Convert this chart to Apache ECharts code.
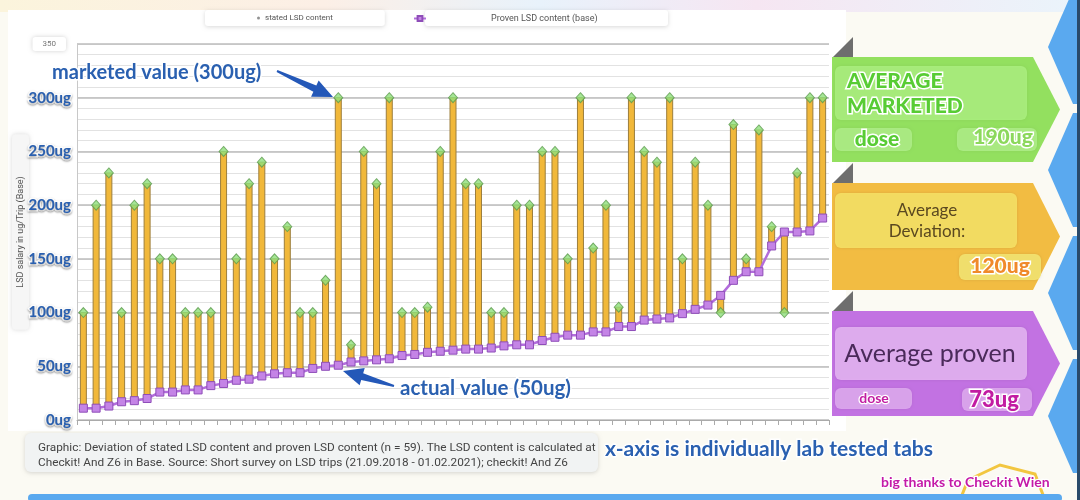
<!DOCTYPE html>
<html><head><meta charset="utf-8">
<script src="https://cdn.jsdelivr.net/npm/echarts@6/dist/echarts.min.js"></script>
<style>html,body{margin:0;padding:0;background:#fbfaf3}#c{width:1080px;height:500px}</style>
</head><body><div id="c"></div><script>
// ---- data ----
const categories = Array.from({length:59},(_,i)=>'Tab '+(i+1));
const statedContent = [100,200,230,100,200,220,150,150,100,100,
  100,250,150,220,240,150,180,100,100,130,
  300,70,250,220,300,100,100,105,250,300,
  220,220,100,100,200,200,250,250,150,300,
  160,200,105,300,250,240,300,150,240,200,
  100,275,150,270,180,100,230,300,300];
const provenContent = [11,11,13,17,18,20,26,26,28,28,
  32,34,37,38,41,43,44,44,48,50,
  51,54,55,56,57,60,61,63,64,65,
  66,66,67,69,70,70,74,77,79,79,
  82,82,87,87,93,94,95,99,103,107,
  116,130,138,138,162,175,175,176,188];
const yTickLabels = {0:'0ug',50:'50ug',100:'100ug',150:'150ug',200:'200ug',250:'250ug',300:'300ug',350:'350'};
const seriesNames = ['stated LSD content','Proven LSD content (base)'];
const panelTexts = {
  marketed: ['AVERAGE','MARKETED','dose','190ug'],
  deviation: ['Average','Deviation:','120ug'],
  proven: ['Average proven','dose','73ug']
};
const captionLines = ['Graphic: Deviation of stated LSD content and proven LSD content (n = 59). The LSD content is calculated at',
  'Checkit! And Z6 in Base. Source: Short survey on LSD trips (21.09.2018 - 01.02.2021); checkit! And Z6'];

const F = 'Lato, "Open Sans", sans-serif';
const blue = '#2a60b0';

function arrow(tail, tip, wTail, wShaft, wHead, headLen){
  const dx = tip[0]-tail[0], dy = tip[1]-tail[1];
  const L = Math.hypot(dx,dy), ux = dx/L, uy = dy/L, nx = -uy, ny = ux;
  const bx = tip[0]-ux*headLen, by = tip[1]-uy*headLen;
  return [[tail[0]+nx*wTail, tail[1]+ny*wTail],[bx+nx*wShaft, by+ny*wShaft],[bx+nx*wHead, by+ny*wHead],
    tip,[bx-nx*wHead, by-ny*wHead],[bx-nx*wShaft, by-ny*wShaft],[tail[0]-nx*wTail, tail[1]-ny*wTail]];
}
function outlinedText(x,y,text,size,fill,opt){
  opt = opt||{};
  return {type:'text', z: 120, x:x, y:y, style:{text:text, fill:fill, font:(opt.weight||'bold')+' '+size+'px '+F,
    stroke: opt.stroke===undefined?'#fff':opt.stroke, lineWidth: opt.lw||3, strokeFirst: true,
    textAlign: opt.align||'left', align: opt.align||'left', textVerticalAlign:'middle', verticalAlign:'middle',
    shadowColor: opt.shadow===false?'transparent':'rgba(0,0,0,0.35)', shadowBlur: 2, shadowOffsetY: 1}};
}
function panel(y0, y1, color){
  const ym = (y0+y1)/2;
  return [
    {type:'polygon', z:-5, shape:{points:[[833,y0],[853,y0-20],[853,y0]]}, style:{fill:'#6e6e6e'}},
    {type:'polygon', z:-5, shape:{points:[[832,y0],[1033,y0],[1060,ym],[1033,y1],[832,y1]]}, style:{fill:color}}
  ];
}
function box(x,y,w,h,fill){
  return {type:'rect', z:-4, shape:{x:x,y:y,width:w,height:h,r:6}, style:{fill:fill, shadowColor:'rgba(0,0,0,0.12)', shadowBlur:3}};
}
const hexes = [];
[47,170,293,416].forEach(c=>{
  hexes.push({type:'polygon', z:-6, shape:{points:[[1073,c-57],[1048,c],[1073,c+57],[1080,c+57],[1080,c-57]]}, style:{fill:'#5aa9ef'}});
});

const chart = echarts.init(document.getElementById('c'));
chart.setOption({
  backgroundColor: '#fbfaf3',
  animation: false,
  textStyle: {fontFamily: F},
  grid: {left: 77, right: 251, top: 44, bottom: 80, outerBoundsMode: 'none', containLabel: false},
  legend: [
    {data:[{name: seriesNames[0], itemStyle:{color:'#777', borderWidth:0}}], left: 205, top: 10,
      icon:'circle', itemWidth: 3, itemHeight: 3, itemGap: 0,
      padding:[4,52,4,52], backgroundColor:'#fff', borderRadius: 3,
      shadowColor:'rgba(0,0,0,0.15)', shadowBlur: 4, shadowOffsetY: 1,
      textStyle:{fontSize: 8, color:'#555', fontFamily:'Roboto'}},
    {data:[{name: seriesNames[1]}], left: 413, top: 10,
      itemWidth: 12, itemHeight: 6,
      padding:[4,0,4,0],
      textStyle:{fontSize: 9, color:'#555', fontFamily:'Roboto', padding:[0,0,0,60]}}
  ],
  xAxis: {type:'category', data: categories, boundaryGap: true,
    axisLine:{lineStyle:{color:'#aaa'}}, axisTick:{show:true, interval:0, length:5, lineStyle:{color:'#aaa'}},
    axisLabel:{show:false}, splitLine:{show:false}},
  yAxis: [
    {type:'value', min:0, max:350, interval:10,
      name:'LSD salary in ug/Trip (Base)', nameLocation:'middle', nameRotate:90, nameGap:48, nameMoveOverlap:false,
      nameTextStyle:{fontSize:9, color:'#555', fontFamily:'Roboto', backgroundColor:'#f6f6f6', borderRadius:4,
        padding:[4,42,4,42], shadowColor:'rgba(0,0,0,0.15)', shadowBlur:4},
      axisLine:{show:true, lineStyle:{color:'#c8c8c8'}}, axisTick:{show:false},
      splitLine:{show:true, lineStyle:{color:'#e2e2e2', width:1}},
      axisLabel:{margin:6, formatter: v => {
          if (!(v in yTickLabels)) return '';
          return v===350 ? '{box|'+yTickLabels[v]+'}{sp|}' : '{lab|'+yTickLabels[v]+'}';
        },
        rich:{
          lab:{fontSize:15, fontWeight:'bold', color:blue, fontFamily:F, textBorderColor:'#fff', textBorderWidth:3,
            textShadowColor:'rgba(0,0,0,0.35)', textShadowBlur:2, textShadowOffsetY:1},
          box:{fontSize:8, color:'#777', fontFamily:'Roboto', backgroundColor:'#fff', borderRadius:3, padding:[3,10],
            shadowColor:'rgba(0,0,0,0.18)', shadowBlur:4},
          sp:{width:5}
        }}},
    {type:'value', min:0, max:350, interval:50, show:true,
      axisLine:{show:false}, axisTick:{show:false}, axisLabel:{show:false},
      splitLine:{show:true, lineStyle:{color:'#bcbcbc', width:1.6}}}
  ],
  series: [
    {type:'custom', name:'range', z:2,
      data: categories.map((c,i)=>[i, provenContent[i], statedContent[i]]),
      encode:{x:0, y:[1,2]},
      renderItem:(params, api)=>{
        const a = api.coord([api.value(0), api.value(1)]);
        const b = api.coord([api.value(0), api.value(2)]);
        const w = 6;
        return {type:'rect', shape:{x:a[0]-w/2, y:Math.min(a[1],b[1]), width:w, height:Math.abs(a[1]-b[1])},
          style:{fill:'#f1b83a', stroke:'#9c7e3c', lineWidth:1}};
      }},
    {type:'line', name: seriesNames[1], data: provenContent, z:3,
      symbol:'rect', symbolSize:8,
      lineStyle:{color:'#b36ddc', width:2.5},
      itemStyle:{color:'#c484e6', borderColor:'#8e4db8', borderWidth:1}},
    {type:'scatter', name: seriesNames[0], data: statedContent, z:4,
      symbol:'diamond', symbolSize:[9,10],
      itemStyle:{color:'#8fe07a', borderColor:'#5c9a4e', borderWidth:1}}
  ],
  graphic: [
    {type:'rect', z:-20, shape:{x:0,y:0,width:1080,height:12},
      style:{fill:new echarts.graphic.LinearGradient(0,0,1,0,[
        {offset:0,color:'#fbf4dc'},{offset:0.3,color:'#fcefe6'},{offset:0.5,color:'#e8f2fb'},
        {offset:0.7,color:'#f6e6f2'},{offset:1,color:'#eaf4fb'}])}},
    {type:'rect', z:-15, shape:{x:8,y:10,width:838,height:421}, style:{fill:'#ffffff'}},
    {type:'rect', z:-14, shape:{x:425,y:10,width:243,height:16,r:3}, style:{fill:'#fff', shadowColor:'rgba(0,0,0,0.15)', shadowBlur:4, shadowOffsetY:1}},
    ...hexes,
    {type:'rect', z:-6, shape:{x:1077,y:0,width:3,height:500}, style:{fill:'#2a4a6a'}},
    ...panel(57,162,'#93e05f'),
    ...panel(183,290,'#f2bc42'),
    ...panel(311,416,'#c272e2'),
    box(835,66,192,54,'rgba(190,255,150,0.55)'),
    box(835,128,77,23,'rgba(200,255,170,0.5)'),
    box(957,128,80,23,'rgba(200,255,170,0.5)'),
    box(835,193,182,55,'rgba(250,235,110,0.75)'),
    box(959,254,82,26,'rgba(245,235,120,0.8)'),
    box(835,327,192,53,'rgba(240,200,250,0.7)'),
    box(835,388,77,21,'rgba(240,200,250,0.6)'),
    box(962,388,70,23,'rgba(240,200,250,0.6)'),
    outlinedText(847,81,panelTexts.marketed[0],21,'#58cc34',{lw:3, weight:900}),
    outlinedText(847,106,panelTexts.marketed[1],21,'#58cc34',{lw:3, weight:900}),
    outlinedText(877,139,panelTexts.marketed[2],21,'#58cc34',{lw:3, weight:900, align:'center'}),
    outlinedText(1003,137,panelTexts.marketed[3],21,'#8cd85c',{lw:3, weight:900, align:'center'}),
    outlinedText(927,211,panelTexts.deviation[0],17,'#5a4820',{weight:'normal', stroke:'transparent', shadow:false, align:'center'}),
    outlinedText(927,232,panelTexts.deviation[1],17,'#5a4820',{weight:'normal', stroke:'transparent', shadow:false, align:'center'}),
    outlinedText(1000,266,panelTexts.deviation[2],21,'#f08a2a',{lw:3, weight:900, align:'center'}),
    outlinedText(930,354,panelTexts.proven[0],25,'#4a2a5a',{weight:'normal', stroke:'transparent', shadow:false, align:'center'}),
    outlinedText(874,398,panelTexts.proven[1],14,'#c21ca2',{lw:2.5, align:'center'}),
    outlinedText(994,400,panelTexts.proven[2],22,'#c21ca2',{lw:3, weight:900, align:'center'}),
    outlinedText(52,73,'marketed value (300ug)',20,blue),
    {type:'polygon', z:110, shape:{points: arrow([277,71],[333,97],1,3.5,9,20)}, style:{fill:'#2458b8'}},
    outlinedText(400,388,'actual value (50ug)',20.5,blue),
    {type:'polygon', z:110, shape:{points: arrow([394,386],[343,371],1,3.5,9,20)}, style:{fill:'#2458b8'}},
    {type:'rect', z:-10, shape:{x:25,y:433,width:573,height:39,r:6}, style:{fill:'#f1f3f3', shadowColor:'rgba(0,0,0,0.15)', shadowBlur:4, shadowOffsetY:1}},
    {type:'text', z:50, x:38, y:448, style:{text:captionLines[0], fill:'#444', font:'11.8px Roboto', textVerticalAlign:'middle', verticalAlign:'middle'}},
    {type:'text', z:50, x:38, y:463, style:{text:captionLines[1], fill:'#444', font:'11.8px Roboto', textVerticalAlign:'middle', verticalAlign:'middle'}},
    outlinedText(605,449,'x-axis is individually lab tested tabs',21,blue),
    outlinedText(881,482,'big thanks to Checkit Wien',14,'#c41aa8',{lw:2.5}),
    {type:'polygon', z:-8, shape:{points:[[968,480],[1000,465],[1035,474],[1045,500],[960,500]]}, style:{fill:'none', stroke:'#f2c640', lineWidth:3}},
    {type:'rect', z:-7, shape:{x:28,y:494,width:1034,height:8,r:4}, style:{fill:'#5aa9ef'}}
  ]
});
</script></body></html>
